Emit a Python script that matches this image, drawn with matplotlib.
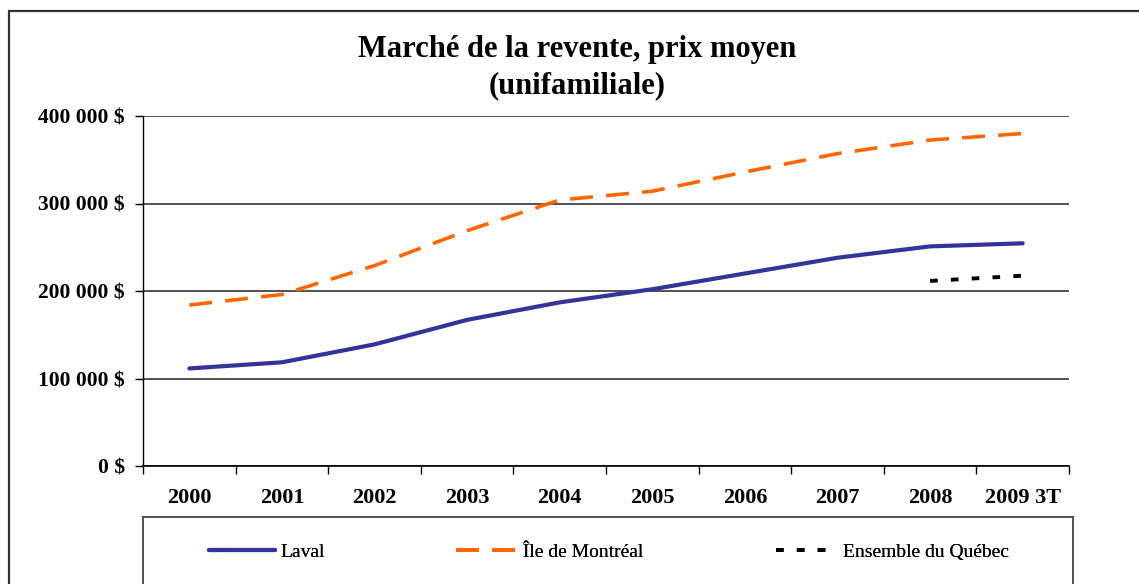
import matplotlib
matplotlib.use("Agg")
import matplotlib.pyplot as plt
from matplotlib.lines import Line2D
from matplotlib.patches import Rectangle
from matplotlib.ticker import FuncFormatter, FixedLocator

plt.rcParams['font.family'] = ['Liberation Serif', 'DejaVu Serif']
plt.rcParams['lines.scale_dashes'] = False

categories = ['2000', '2001', '2002', '2003', '2004', '2005', '2006', '2007', '2008', '2009 3T']
laval = [111500, 118500, 139000, 167000, 187000, 202000, 220000, 238000, 251000, 254500]
montreal = [184000, 196000, 229000, 269000, 304000, 314000, 336000, 357000, 372500, 380000]
quebec_cats = ['2008', '2009 3T']
quebec = [211500, 217500]
yticks = [0, 100000, 200000, 300000, 400000]
series_names = ['Laval', 'Île de Montréal', 'Ensemble du Québec']

W, H = 1139, 584
fig = plt.figure(figsize=(W / 100, H / 100), dpi=100)

def px(x0, y0, x1, y1):
    return [x0 / W, 1 - y1 / H, (x1 - x0) / W, (y1 - y0) / H]

# outer chart frame
fig.patches.append(Rectangle((8.5 / W, -0.1), 1.2, 1 - 11 / H + 0.1, transform=fig.transFigure,
                             fill=False, lw=1.6, edgecolor='#333333', zorder=0))

ax = fig.add_axes(px(143, 116, 1069, 466))
x = list(range(len(categories)))
xq = [categories.index(c) for c in quebec_cats]

styles = [
    dict(color='#333399', lw=3.0, solid_capstyle='round', solid_joinstyle='round'),
    dict(color='#FF6600', lw=2.6, dashes=(16.5, 9.5)),
    dict(color='black', lw=2.8, dashes=(5.5, 9.5)),
]

ax.plot(x, laval, label=series_names[0], zorder=3, **styles[0])
ax.plot(x, montreal, label=series_names[1], zorder=3, **styles[1])
ax.plot(xq, quebec, label=series_names[2], zorder=3, **styles[2])

ax.set_xlim(-0.5, len(categories) - 0.5)
ax.set_ylim(0, 400000)
ax.set_yticks(yticks)
ax.yaxis.set_major_formatter(FuncFormatter(lambda v, p: ('%d' % v if v < 1000 else '{:,}'.format(int(v)).replace(',', ' ')) + ' $'))
ax.grid(axis='y', color='#222222', lw=1.1)
ax.set_axisbelow(True)

ax.xaxis.set_major_locator(FixedLocator([i - 0.5 for i in range(len(categories) + 1)]))
ax.xaxis.set_minor_locator(FixedLocator(x))
ax.set_xticklabels([], minor=False)
ax.set_xticklabels(categories, minor=True, fontsize=16, fontweight='bold')
ax.tick_params(axis='x', which='major', length=6, width=1, color='black', direction='out')
ax.tick_params(axis='x', which='minor', length=0, pad=16)
ax.tick_params(axis='y', length=6, width=1, direction='out', pad=7, labelsize=15.5)
for lab in ax.get_yticklabels():
    lab.set_fontweight('bold')

for s in ['top', 'right']:
    ax.spines[s].set_visible(False)
ax.spines['left'].set_color('black')
ax.spines['bottom'].set_color('black')
ax.spines['left'].set_linewidth(1.0)
ax.spines['bottom'].set_linewidth(1.2)

fig.text(577 / W, 1 - 50 / H, 'Marché de la revente, prix moyen', ha='center', va='center',
         fontsize=22, fontweight='bold')
fig.text(577 / W, 1 - 86 / H, '(unifamiliale)', ha='center', va='center',
         fontsize=22, fontweight='bold')

# legend box
lax = fig.add_axes(px(143, 517, 1073, 589))
lax.set_xticks([]); lax.set_yticks([])
for s in lax.spines.values():
    s.set_color('#444444'); s.set_linewidth(1.3)

handle_x = [209, 456, 776]
handle_len = [3.4, 3.2, 3.2]
for name, st, hx, hl in zip(series_names, styles, handle_x, handle_len):
    h = Line2D([], [], **st)
    lg = fig.legend([h], [name], loc='center left', bbox_to_anchor=(hx / W, 1 - 552 / H),
                    frameon=False, fontsize=14, handlelength=hl, handletextpad=0.25,
                    borderpad=0, borderaxespad=0)
    fig.add_artist(lg)

fig.savefig('out.png', dpi=100)
